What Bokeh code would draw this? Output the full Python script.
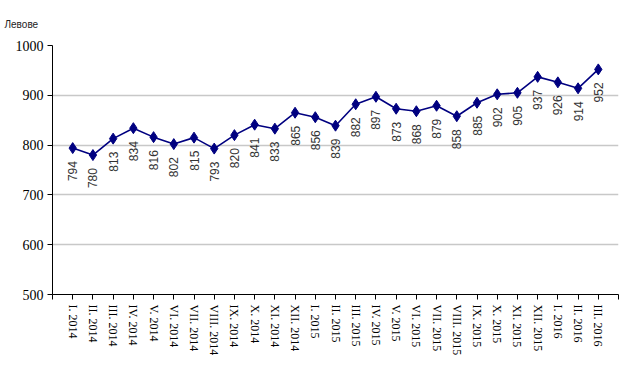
from bokeh.plotting import figure
from bokeh.models import ColumnDataSource, FixedTicker, Title, Range1d
from bokeh.core.properties import value
from bokeh.embed import file_html
from bokeh.resources import INLINE
import math

months = ["I. 2014", "II. 2014", "III. 2014", "IV. 2014", "V. 2014", "VI. 2014",
          "VII. 2014", "VIII. 2014", "IX. 2014", "X. 2014", "XI. 2014", "XII. 2014",
          "I. 2015", "II. 2015", "III. 2015", "IV. 2015", "V. 2015", "VI. 2015",
          "VII. 2015", "VIII. 2015", "IX. 2015", "X. 2015", "XI. 2015", "XII. 2015",
          "I. 2016", "II. 2016", "III. 2016"]
wages = [794, 780, 813, 834, 816, 802, 815, 793, 820, 841, 833, 865,
         856, 839, 882, 897, 873, 868, 879, 858, 885, 902, 905, 937,
         926, 914, 952]
y_ticks = [500, 600, 700, 800, 900, 1000]
y_label = "Левове"

xs = list(range(1, len(months) + 1))
src = ColumnDataSource(dict(x=xs, y=wages, lbl=[str(v) for v in wages]))

p = figure(width=619, height=358, output_backend="svg", toolbar_location=None,
           x_range=Range1d(0, len(months) + 1), y_range=Range1d(500, 1000),
           min_border_left=52, min_border_right=1, min_border_top=44, min_border_bottom=63)
p.outline_line_color = None
p.background_fill_color = "white"

p.line("x", "y", source=src, line_color="#000080", line_width=1.6)
p.scatter("x", "y", source=src, marker="diamond", size=11, fill_color="#000080",
          line_color="#000080")
p.text("x", "y", text="lbl", source=src, angle=math.pi / 2, text_align="right",
       text_baseline="middle", y_offset=13, text_font=value("Liberation Sans"),
       text_font_size="12px", text_color="#333333")

p.xgrid.visible = False
p.ygrid.ticker = FixedTicker(ticks=y_ticks[1:])
p.ygrid.grid_line_color = "#c8c8c8"
p.ygrid.grid_line_width = 1.5

p.xaxis.ticker = FixedTicker(ticks=list(range(0, len(months) + 2)))
p.xaxis.major_label_overrides = {i + 1: m for i, m in enumerate(months)}
p.xaxis.major_label_overrides[0] = ""
p.xaxis.major_label_overrides[len(months) + 1] = ""
p.xaxis.major_label_orientation = "vertical"
p.xaxis.major_label_text_font = "Liberation Serif"
p.xaxis.major_label_text_font_size = "12px"
p.xaxis.major_label_text_color = "black"
p.xaxis.major_label_standoff = 5
p.xaxis.major_tick_out = 5
p.xaxis.major_tick_in = 0
p.xaxis.minor_tick_line_color = None
p.xaxis.axis_line_color = "black"

p.yaxis.ticker = FixedTicker(ticks=y_ticks)
p.yaxis.major_label_text_font = "Liberation Serif"
p.yaxis.major_label_text_font_size = "14px"
p.yaxis.major_label_text_color = "black"
p.yaxis.major_label_standoff = 4
p.yaxis.major_tick_out = 5
p.yaxis.major_tick_in = 0
p.yaxis.minor_tick_line_color = None
p.yaxis.axis_line_color = "black"

p.add_layout(Title(text=y_label, align="left", offset=-48, standoff=32,
                   text_font="Liberation Sans", text_font_size="10px",
                   text_font_style="normal", text_color="#222222"), "above")

open("out.html", "w").write(file_html(p, INLINE))
